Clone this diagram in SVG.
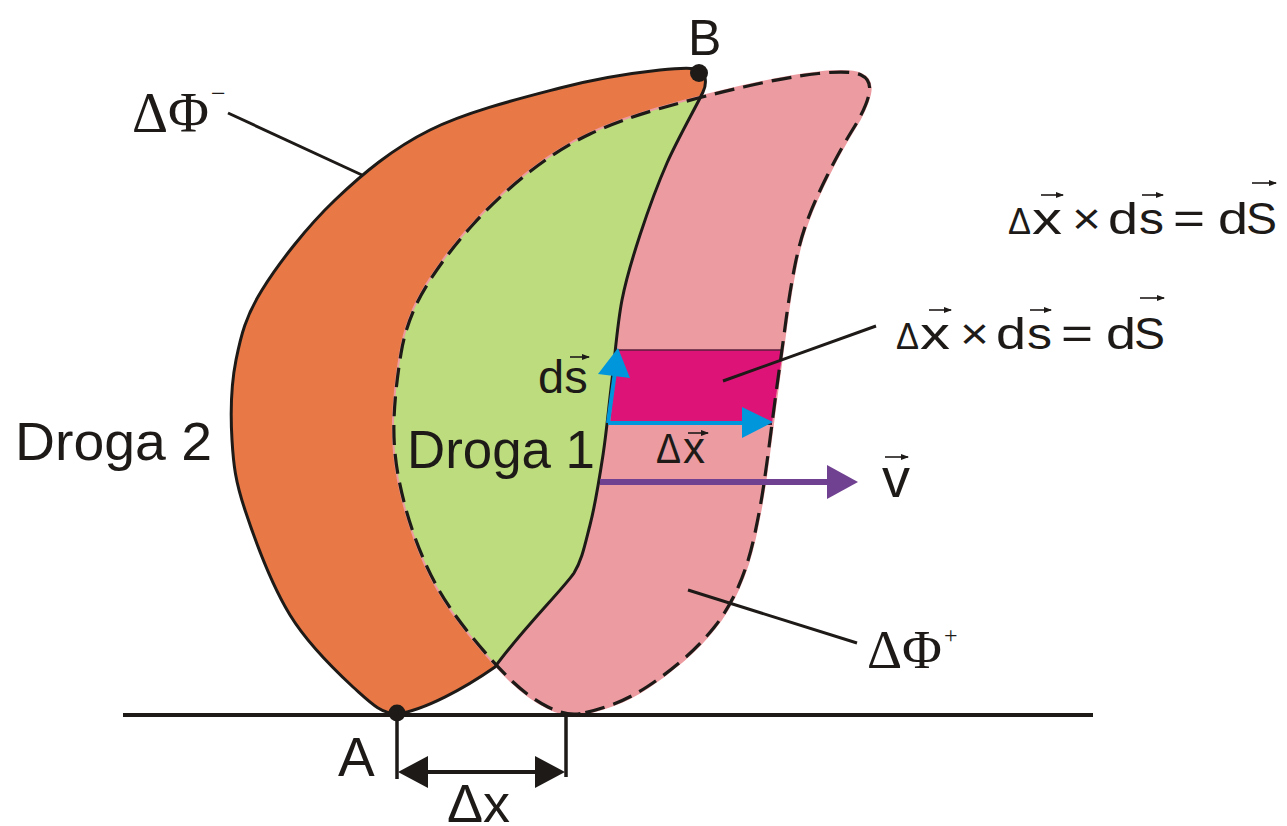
<svg xmlns="http://www.w3.org/2000/svg" width="1287" height="826" viewBox="0 0 1287 826">
<style>
.sans{font-family:"Liberation Sans",Arial,sans-serif;fill:#1d1a18}
.serif{font-family:"Liberation Serif","Times New Roman",serif;fill:#1d1a18}
.ln{stroke:#1d1a18;fill:none;stroke-linecap:butt}
.acc{stroke:#1d1a18;stroke-width:1.6;fill:none;marker-end:url(#ah)}
</style>
<defs>
<marker id="ah" markerUnits="userSpaceOnUse" markerWidth="8" markerHeight="6" refX="7" refY="3" orient="auto"><path d="M0,0 L8,3 L0,6 z" fill="#1d1a18"/></marker>
<path id="orig" d="M 397,714 C 380,713 371,703 353,687 C 335.2,670.5 308,644.5 290,615 C 272,585.5 254.7,539.2 245,510 C 235.3,480.8 233.5,465 232,440 C 230.5,415 231,385 236,360 C 241,335 245.5,316.7 262,290 C 278.5,263.3 307,226.7 335,200 C 363,173.3 392.5,148.7 430,130 C 467.5,111.3 521.7,98 560,88 C 598.3,78 636.8,72.5 660,70 C 683,67.5 695,67.5 700,70 C 706,73 707,84 703,92 C 697,105 677.5,139.2 667,163 C 656.5,186.8 647.5,212.2 640,235 C 632.5,257.8 626.7,275.8 622,300 C 617.3,324.2 615.2,354.2 612,380 C 608.8,405.8 606.7,430.8 603,455 C 599.3,479.2 595.2,505 590,525 C 584.8,545 582,560 574,573 C 564,588 520,632 495,667 C 465,688 425,710 397,714 Z"/>
<path id="shift" d="M 580.5,713.5 Q 566,716 548,707 Q 530,698 512.5,681.5 Q 495,665 472.5,637.5 Q 450,610 437.5,587.5 Q 425,565 415,537.5 Q 405,510 399,480 Q 393,450 394,420 Q 395,390 401,353.5 Q 407,317 427,285 Q 447,253 473.5,224 Q 500,195 530,171.5 Q 560,148 590,134 Q 620,120 660,108.5 Q 700,97 743.5,87 Q 787,77 818.5,73.5 Q 850,70 861,75 Q 872,80 869,94 Q 866,108 853,129 Q 840,150 827.5,175 Q 815,200 807.5,220 Q 800,240 795,265 Q 790,290 786,320 Q 782,350 778.5,375 Q 775,400 771,431.5 Q 767,463 763.5,486.5 Q 760,510 754,537.5 Q 748,565 738,587.5 Q 728,610 714,627.5 Q 700,645 682.5,660 Q 665,675 647.5,686.5 Q 630,698 612.5,704.5 Q 595,711 580.5,713.5 Z"/>
<clipPath id="clipOrig"><use href="#orig"/></clipPath>
</defs>
<rect width="1287" height="826" fill="#ffffff"/>

<g id="surface-orig">
<use href="#orig" fill="#e87846"/>
</g>
<g id="surface-shift">
<use href="#shift" fill="#ec9ca1" stroke="#ec9ca1" stroke-width="4"/>
</g>
<g id="overlap" clip-path="url(#clipOrig)">
<use href="#shift" fill="#bcdc7e"/>
</g>
<g id="element-dS">
<polygon points="618,350 783,350 772,423 610,423" fill="#dd1378"/>
<line x1="618" y1="350" x2="783" y2="350" stroke="#5b1f3c" stroke-width="1.6"/>
<line x1="610" y1="424" x2="772" y2="424" stroke="#3a2030" stroke-width="2"/>
</g>
<g id="outlines">
<use href="#orig" fill="none" stroke="#1d1a18" stroke-width="3"/>
<use href="#shift" fill="none" stroke="#1d1a18" stroke-width="3.2" stroke-dasharray="20 9"/>
</g>

<g id="connectors">
<line class="ln" x1="123" y1="715" x2="1093" y2="715" stroke-width="4"/>
<line class="ln" x1="397" y1="714" x2="397" y2="779" stroke-width="3.5"/>
<line class="ln" x1="566" y1="714" x2="566" y2="777" stroke-width="3.5"/>
<line class="ln" x1="425" y1="772" x2="540" y2="772" stroke-width="4"/>
<polygon points="398,772 428,756 428,788" fill="#1d1a18"/>
<polygon points="565,772 535,756 535,788" fill="#1d1a18"/>
<line class="ln" x1="228" y1="113" x2="362" y2="175" stroke-width="3"/>
<line class="ln" x1="723" y1="381" x2="876" y2="326" stroke-width="3"/>
<line class="ln" x1="688" y1="590" x2="857" y2="643" stroke-width="3"/>
<line x1="608" y1="423" x2="615" y2="372" stroke="#0096db" stroke-width="4"/>
<polygon points="618,348 598,374 630,378" fill="#0096db"/>
<line x1="608" y1="423" x2="746" y2="423" stroke="#0096db" stroke-width="4"/>
<polygon points="773,422 742,407 742,438" fill="#0096db"/>
<line x1="600" y1="482" x2="830" y2="482" stroke="#704191" stroke-width="6"/>
<polygon points="827,465 858,482 827,499" fill="#704191"/>
</g>

<g id="point-A">
<circle cx="397" cy="713" r="8.5" fill="#1d1a18"/>
<text class="sans" x="338" y="776" font-size="55">A</text>
</g>
<g id="point-B">
<circle cx="699" cy="73" r="9" fill="#1d1a18"/>
<text class="sans" x="688" y="55" font-size="50">B</text>
</g>

<g id="label-droga2"><text class="sans" x="15" y="460" font-size="54" textLength="197" lengthAdjust="spacingAndGlyphs">Droga 2</text></g>
<g id="label-droga1"><text class="sans" x="407" y="468" font-size="54" textLength="188" lengthAdjust="spacingAndGlyphs">Droga 1</text></g>

<g id="label-dphi-minus">
<text class="serif" x="132" y="132" font-size="58" textLength="77" lengthAdjust="spacingAndGlyphs">ΔΦ</text>
<text class="serif" x="211" y="102" font-size="26">−</text>
</g>
<g id="label-dphi-plus">
<text class="serif" x="867" y="668" font-size="55" textLength="75" lengthAdjust="spacingAndGlyphs">ΔΦ</text>
<text class="serif" x="944" y="643" font-size="24">+</text>
</g>

<g id="label-dx-bottom"><text class="sans" x="447" y="822" font-size="54">Δx</text></g>

<g id="label-ds">
<text class="sans" x="538" y="393" font-size="47">ds</text>
<line class="acc" x1="570" y1="357" x2="589" y2="357"/>
</g>
<g id="label-dxvec">
<text class="sans" x="656" y="463" font-size="42" textLength="25" lengthAdjust="spacingAndGlyphs">Δ</text>
<text class="sans" x="683" y="463" font-size="44">x</text>
<line class="acc" x1="688" y1="433" x2="708" y2="433"/>
</g>
<g id="label-v">
<text class="sans" x="882" y="497" font-size="56">v</text>
<line class="acc" x1="885" y1="457" x2="908" y2="457"/>
</g>

<g id="formula-top">
<text class="sans" x="1008" y="234" font-size="36" textLength="23" lengthAdjust="spacingAndGlyphs">Δ</text>
<text class="sans" x="1032" y="234" font-size="44" textLength="30" lengthAdjust="spacingAndGlyphs">x</text>
<text class="sans" x="1072" y="234" font-size="44" textLength="29" lengthAdjust="spacingAndGlyphs">×</text>
<text class="sans" x="1108" y="234" font-size="44" textLength="30" lengthAdjust="spacingAndGlyphs">d</text>
<text class="sans" x="1139" y="234" font-size="44" textLength="25" lengthAdjust="spacingAndGlyphs">s</text>
<text class="sans" x="1173" y="234" font-size="44" textLength="32" lengthAdjust="spacingAndGlyphs">=</text>
<text class="sans" x="1218" y="234" font-size="44" textLength="30" lengthAdjust="spacingAndGlyphs">d</text>
<text class="sans" x="1246" y="234" font-size="44" textLength="31" lengthAdjust="spacingAndGlyphs">S</text>
<line class="acc" x1="1041" y1="195" x2="1063" y2="195"/>
<line class="acc" x1="1142" y1="195" x2="1163" y2="195"/>
<line class="acc" x1="1252" y1="183" x2="1276" y2="183"/>
</g>

<g id="formula-mid">
<text class="sans" x="896" y="349" font-size="36" textLength="23" lengthAdjust="spacingAndGlyphs">Δ</text>
<text class="sans" x="920" y="349" font-size="44" textLength="30" lengthAdjust="spacingAndGlyphs">x</text>
<text class="sans" x="960" y="349" font-size="44" textLength="29" lengthAdjust="spacingAndGlyphs">×</text>
<text class="sans" x="996" y="349" font-size="44" textLength="30" lengthAdjust="spacingAndGlyphs">d</text>
<text class="sans" x="1027" y="349" font-size="44" textLength="25" lengthAdjust="spacingAndGlyphs">s</text>
<text class="sans" x="1061" y="349" font-size="44" textLength="32" lengthAdjust="spacingAndGlyphs">=</text>
<text class="sans" x="1106" y="349" font-size="44" textLength="30" lengthAdjust="spacingAndGlyphs">d</text>
<text class="sans" x="1134" y="349" font-size="44" textLength="31" lengthAdjust="spacingAndGlyphs">S</text>
<line class="acc" x1="929" y1="310" x2="951" y2="310"/>
<line class="acc" x1="1030" y1="310" x2="1051" y2="310"/>
<line class="acc" x1="1140" y1="298" x2="1164" y2="298"/>
</g>
</svg>
